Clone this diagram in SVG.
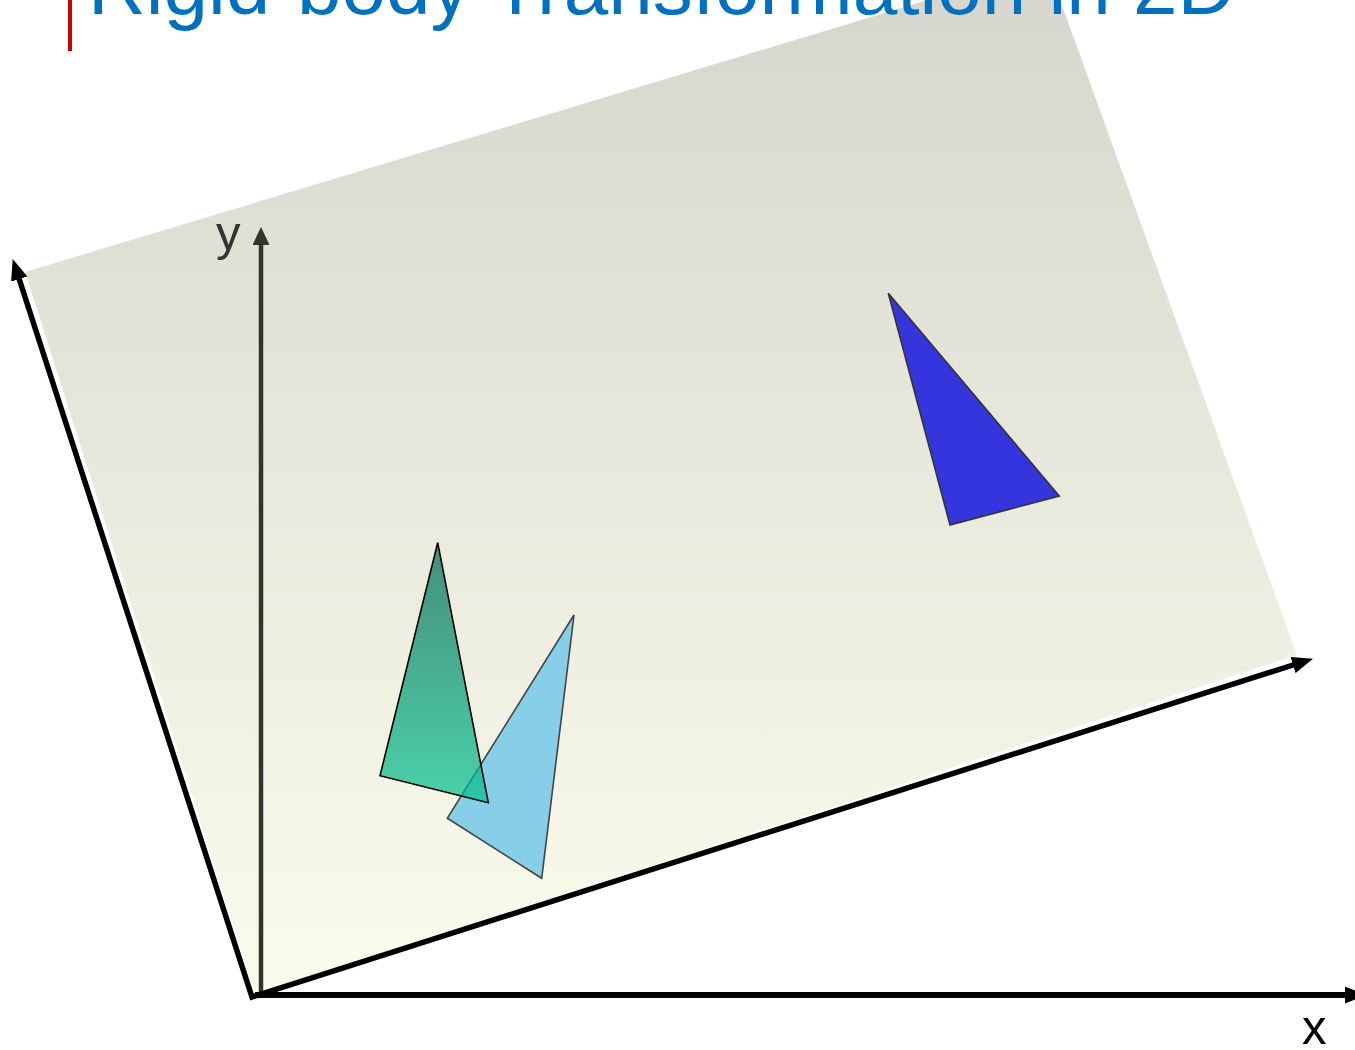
<svg xmlns="http://www.w3.org/2000/svg" width="1355" height="1050" viewBox="0 0 1355 1050">
  <defs>
    <linearGradient id="planeGrad" gradientUnits="userSpaceOnUse" x1="0" y1="-36" x2="0" y2="995">
      <stop offset="0" stop-color="#d6d5cd"/>
      <stop offset="1" stop-color="#fbfcec"/>
    </linearGradient>
    <linearGradient id="greenGrad" gradientUnits="userSpaceOnUse" x1="0" y1="543" x2="0" y2="802">
      <stop offset="0" stop-color="#006650"/>
      <stop offset="1" stop-color="#00c390"/>
    </linearGradient>
    <marker id="arrowBlack" markerUnits="userSpaceOnUse" markerWidth="21" markerHeight="17" refX="10" refY="8.5" orient="auto-start-reverse" viewBox="0 0 21 17">
      <path d="M0,0 L21,8.5 L0,17 z" fill="#000"/>
    </marker>
    <marker id="arrowGray" markerUnits="userSpaceOnUse" markerWidth="18" markerHeight="17" refX="9" refY="8.5" orient="auto" viewBox="0 0 18 17">
      <path d="M0,0 L18,8.5 L0,17 z" fill="#33322b"/>
    </marker>
    <style>
      .title { font-family: "Liberation Sans", Arial, sans-serif; font-size: 80px; fill: #0070c0; }
      .axislabel { font-family: "Liberation Sans", Arial, sans-serif; font-size: 49px; }
      .tri { stroke-width: 1.6; stroke-linejoin: miter; }
    </style>
  </defs>

  <g id="plane">
    <polygon points="25,272 1047,-36 1297,655 256,995" fill="url(#planeGrad)"/>
  </g>

  <g id="title">
    <rect x="68" y="0" width="4" height="51" fill="#cc0000"/>
    <text class="title" x="88" y="13.5">Rigid-body Transformation in 2D</text>
  </g>

  <g id="connectors">
    <line id="y-axis" x1="261" y1="995" x2="261" y2="236" stroke="#33322b" stroke-width="4.5" marker-end="url(#arrowGray)"/>
    <line id="x-axis" x1="255" y1="995" x2="1355" y2="995" stroke="#000" stroke-width="6" marker-end="url(#arrowBlack)"/>
    <path id="plane-axes" d="M16.1,269.5 L252,997 L1302.5,662" fill="none" stroke="#000" stroke-width="5.5" stroke-linejoin="miter" marker-start="url(#arrowBlack)" marker-end="url(#arrowBlack)"/>
  </g>

  <g id="label-y">
    <text class="axislabel" x="216" y="250" fill="#333333">y</text>
  </g>
  <g id="label-x">
    <text class="axislabel" x="1302" y="1044" fill="#000">x</text>
  </g>

  <g id="triangle-blue">
    <polygon class="tri" points="888.3,293.3 1059.3,496 950,525" fill="#3535dd" stroke="#333333"/>
  </g>

  <g id="triangle-lightblue">
    <polygon class="tri" points="574,615 447.3,818.3 541.7,878.3" fill="#87cfe8" stroke="#444444"/>
  </g>

  <g id="triangle-green">
    <polygon class="tri" points="437.7,542.7 380,775.7 488.3,802.7" fill="url(#greenGrad)" fill-opacity="0.7" stroke="#000"/>
  </g>
</svg>
